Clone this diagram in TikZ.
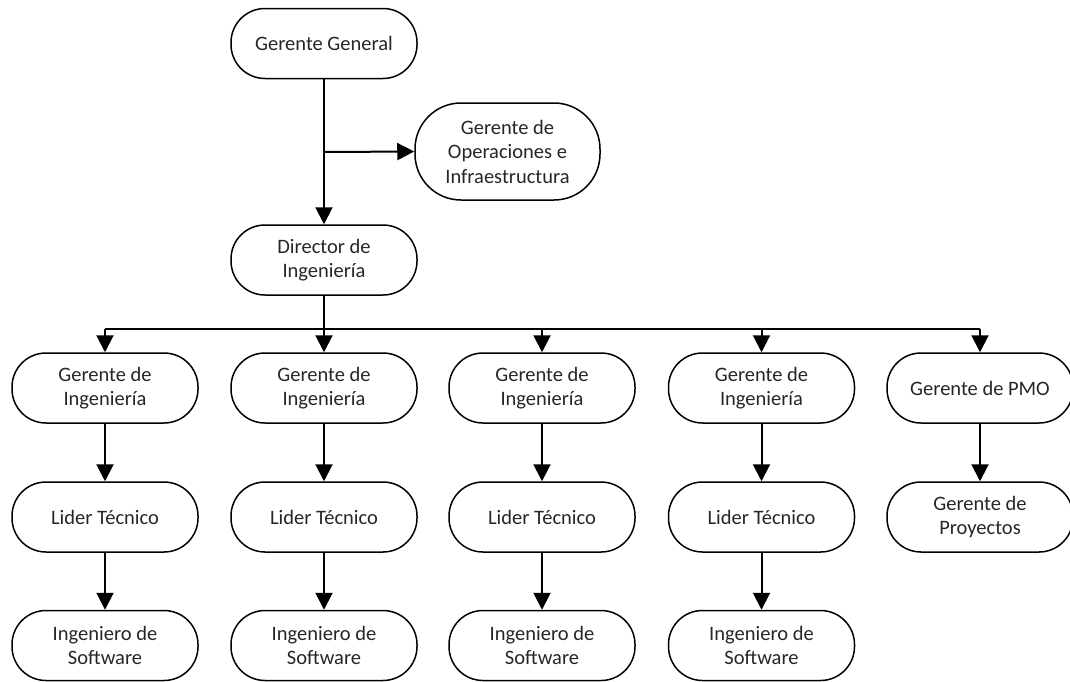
\documentclass[tikz,border=0pt]{standalone}
\usepackage{fontspec}
\setmainfont{Carlito}
\usetikzlibrary{arrows.meta}
\begin{document}
\begin{tikzpicture}[x=1pt,y=-1pt,
  role/.style={draw=black, line width=1.5pt, rectangle, rounded corners=34pt,
    minimum width=186pt, minimum height=70pt, inner sep=0pt, align=center,
    text=black!85, font=\fontsize{20.5}{24.5}\selectfont},
  link/.style={line width=2pt, -{Triangle[length=17pt,width=17pt]}},
  wire/.style={line width=2pt}]
\useasboundingbox (0,0) rectangle (1070,681);

% top of the hierarchy
\node[role] (gg) at (324,43.5) {Gerente General};
\node[role, minimum width=185pt, minimum height=97pt, rounded corners=46pt] (ops) at (507.5,151.5)
  {Gerente de\\Operaciones e\\Infraestructura};
\node[role] (dir) at (324,260) {Director de\\Ingeniería};

% engineering managers and PMO
\node[role] (g1) at (105,388) {Gerente de\\Ingeniería};
\node[role] (g2) at (324,388) {Gerente de\\Ingeniería};
\node[role] (g3) at (542,388) {Gerente de\\Ingeniería};
\node[role] (g4) at (761.5,388) {Gerente de\\Ingeniería};
\node[role] (pmo) at (980,388) {Gerente de PMO};

% technical leads
\node[role] (l1) at (105,517) {Lider Técnico};
\node[role] (l2) at (324,517) {Lider Técnico};
\node[role] (l3) at (542,517) {Lider Técnico};
\node[role] (l4) at (761.5,517) {Lider Técnico};
\node[role] (pr) at (980,517) {Gerente de\\Proyectos};

% software engineers
\node[role] (s1) at (105,645.5) {Ingeniero de\\Software};
\node[role] (s2) at (324,645.5) {Ingeniero de\\Software};
\node[role] (s3) at (542,645.5) {Ingeniero de\\Software};
\node[role] (s4) at (761.5,645.5) {Ingeniero de\\Software};

% connectors
\coordinate (tap) at (324,152);
\coordinate (bus) at (324,329);
\draw[link] (gg.south) -- (dir.north);
\draw[link] (tap) -- (ops.west);
\draw[wire] (dir.south) -- (bus);
\draw[wire] (g1.north |- bus) -- (pmo.north |- bus);
\foreach \n in {g1,g2,g3,g4,pmo}
  \draw[link] (\n.north |- bus) -- (\n.north);
\foreach \a/\b in {g1/l1,g2/l2,g3/l3,g4/l4,pmo/pr,l1/s1,l2/s2,l3/s3,l4/s4}
  \draw[link] (\a.south) -- (\b.north);
\end{tikzpicture}
\end{document}
